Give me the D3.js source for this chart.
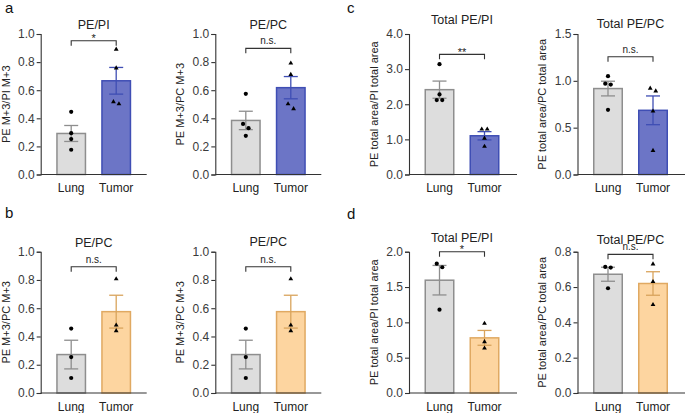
<!DOCTYPE html>
<html>
<head>
<meta charset="utf-8">
<script src="https://cdn.jsdelivr.net/npm/d3@7"></script>
<style>
  html, body { margin: 0; padding: 0; background: #fff; }
  svg { display: block; font-family: "Liberation Sans", Arial, Helvetica, sans-serif; }
</style>
</head>
<body>
<svg id="chart" width="685" height="413"></svg>
<script>
// ---------- data ----------
const categories = ["Lung", "Tumor"];
const panelTitles = ["PE/PI", "PE/PC", "Total PE/PI", "Total PE/PC", "PE/PC", "PE/PC", "Total PE/PI", "Total PE/PC"];
const yAxisLabels = [
  "PE M+3/PI M+3", "PE M+3/PC M+3", "PE total area/PI total area", "PE total area/PC total area",
  "PE M+3/PC M+3", "PE M+3/PC M+3", "PE total area/PI total area", "PE total area/PC total area"
];
const yMaxima = [1.0, 1.0, 4.0, 1.5, 1.0, 1.0, 2.0, 0.8];
const yTickSteps = [0.2, 0.2, 1.0, 0.5, 0.2, 0.2, 0.5, 0.2];
const significance = ["*", "n.s.", "**", "n.s.", "n.s.", "n.s.", "*", "n.s."];
const bracketLevels = [0.952, 0.898, 3.42, 1.257, 0.894, 0.894, 2.0, 0.785];
const panelLetters = ["a", "c", "b", "d"];
const lungValues = [
  [0.446, 0.294, 0.252, 0.176],
  [0.574, 0.360, 0.330, 0.275],
  [3.14, 2.28, 2.12, 2.12],
  [1.05, 0.97, 0.96, 0.69],
  [0.456, 0.254, 0.106],
  [0.456, 0.254, 0.106],
  [1.83, 1.78, 1.18],
  [0.714, 0.710, 0.593]
];
const tumorValues = [
  [0.891, 0.758, 0.517, 0.502],
  [0.792, 0.711, 0.502, 0.467],
  [1.29, 1.29, 1.03, 0.80],
  [0.92, 0.89, 0.676, 0.255],
  [0.807, 0.480, 0.440],
  [0.807, 0.480, 0.440],
  [0.984, 0.724, 0.634],
  [0.73, 0.63, 0.50]
];

// ---------- layout & style ----------
const colX = [40.7, 215.3, 409, 577.5];
const rows = [{ top: 34, bottom: 174.5 }, { top: 251.7, bottom: 393 }];
const axisExtent = [106, 106, 108, 108];
const titleGap = [5, 5, 10, 6.5, 5, 5.5, 9.5, 8];
const letterPos = [[5, 13], [347, 13], [5, 218], [347, 219]];
const lungStyle = { fill: "#dddddd", stroke: "#8e8e8e", err: "#8e8e8e" };
const tumorStyles = [
  { fill: "#6c75c6", stroke: "#3f4eb4", err: "#3f4eb4" },
  { fill: "#fdd5a0", stroke: "#e0a962", err: "#d9a45c" }
];
const axisColor = "#333";
const textColor = "#222";

const svg = d3.select("#chart");

function mean(a) { return d3.mean(a); }
function sem(a) { return d3.deviation(a) / Math.sqrt(a.length); }

function jitter(vals, y) {
  // group points whose pixel positions nearly overlap, spread them symmetrically
  const idx = vals.map((v, i) => i).sort((a, b) => vals[b] - vals[a]);
  const off = new Array(vals.length).fill(0);
  let cluster = [idx[0]];
  const flush = () => {
    const n = cluster.length;
    cluster.forEach((k, j) => { off[k] = (j - (n - 1) / 2) * 5.5; });
  };
  for (let j = 1; j < idx.length; j++) {
    const prev = cluster[cluster.length - 1];
    if (Math.abs(y(vals[idx[j]]) - y(vals[prev])) < 5.5) cluster.push(idx[j]);
    else { flush(); cluster = [idx[j]]; }
  }
  flush();
  return off;
}

for (let p = 0; p < 8; p++) {
  const row = p < 4 ? 0 : 1;
  const col = p % 4;
  const ax = colX[col];
  const { top, bottom } = rows[row];
  const g = svg.append("g");

  const y = d3.scaleLinear().domain([0, yMaxima[p]]).range([bottom, top]);
  const x = d3.scaleBand().domain(categories).range([ax + 15.5, ax + 90.5]).paddingInner(1 / 3).paddingOuter(0);
  const tumorStyle = tumorStyles[row];
  const styles = [lungStyle, tumorStyle];
  const groups = [lungValues[p], tumorValues[p]];

  // bars
  groups.forEach((vals, i) => {
    const m = mean(vals);
    g.append("rect")
      .attr("x", x(categories[i]) + 0.75)
      .attr("y", y(m))
      .attr("width", x.bandwidth() - 1.5)
      .attr("height", y(0) - y(m))
      .attr("fill", styles[i].fill)
      .attr("stroke", styles[i].stroke)
      .attr("stroke-width", 1.5);
  });

  // error bars
  groups.forEach((vals, i) => {
    const m = mean(vals), s = sem(vals);
    const cx = x(categories[i]) + x.bandwidth() / 2;
    const eg = g.append("g").attr("stroke", styles[i].err).attr("stroke-width", 1.3).attr("fill", "none");
    eg.append("line").attr("x1", cx).attr("x2", cx).attr("y1", y(m - s)).attr("y2", y(m + s));
    eg.append("line").attr("x1", cx - 7).attr("x2", cx + 7).attr("y1", y(m + s)).attr("y2", y(m + s));
    eg.append("line").attr("x1", cx - 7).attr("x2", cx + 7).attr("y1", y(m - s)).attr("y2", y(m - s));
  });

  // points
  groups.forEach((vals, i) => {
    const cx = x(categories[i]) + x.bandwidth() / 2;
    const off = jitter(vals, y);
    vals.forEach((v, k) => {
      if (i === 0) {
        g.append("circle").attr("cx", cx + off[k]).attr("cy", y(v)).attr("r", 2.1).attr("fill", "#000");
      } else {
        g.append("path")
          .attr("d", d3.symbol().type(d3.symbolTriangle).size(10)())
          .attr("transform", `translate(${cx + off[k]},${y(v)})`)
          .attr("fill", "#000");
      }
    });
  });

  // y axis
  const ticks = d3.range(0, yMaxima[p] + yTickSteps[p] / 2, yTickSteps[p]);
  const yAxis = d3.axisLeft(y).tickValues(ticks).tickFormat(d3.format(".1f")).tickSize(4).tickPadding(2);
  const yg = g.append("g").attr("transform", `translate(${ax},0)`).call(yAxis);
  yg.select(".domain").attr("stroke", axisColor).attr("stroke-width", 1.1);
  yg.selectAll(".tick line").attr("stroke", axisColor).attr("stroke-width", 1.1);
  yg.selectAll(".tick text").attr("fill", "#3a3a3a").attr("font-size", 12).attr("font-family", "Liberation Sans, Arial, sans-serif");

  // x axis (line only)
  g.append("line")
    .attr("x1", ax).attr("x2", ax + axisExtent[col])
    .attr("y1", y(0)).attr("y2", y(0))
    .attr("stroke", axisColor).attr("stroke-width", 1.1);

  // category labels
  categories.forEach((c) => {
    g.append("text")
      .attr("x", x(c) + x.bandwidth() / 2)
      .attr("y", bottom + 17.5)
      .attr("text-anchor", "middle")
      .attr("font-size", 12)
      .attr("fill", textColor)
      .text(c);
  });

  // title
  const cx0 = x(categories[0]) + x.bandwidth() / 2;
  const cx1 = x(categories[1]) + x.bandwidth() / 2;
  g.append("text")
    .attr("x", (cx0 + cx1) / 2)
    .attr("y", top - titleGap[p])
    .attr("text-anchor", "middle")
    .attr("font-size", 12.5)
    .attr("fill", textColor)
    .text(panelTitles[p]);

  // y label
  g.append("text")
    .attr("transform", `translate(${ax - 35},${(top + bottom) / 2}) rotate(-90)`)
    .attr("text-anchor", "middle")
    .attr("dy", "0.35em")
    .attr("font-size", 11)
    .attr("fill", textColor)
    .text(yAxisLabels[p]);

  // significance bracket
  const by = y(bracketLevels[p]);
  g.append("path")
    .attr("d", `M${cx0},${by + 5}V${by}H${cx1}V${by + 5}`)
    .attr("fill", "none").attr("stroke", axisColor).attr("stroke-width", 1.1);
  const isStar = significance[p].indexOf("*") >= 0;
  g.append("text")
    .attr("x", (cx0 + cx1) / 2)
    .attr("y", isStar ? by + 1.5 : by - 4)
    .attr("text-anchor", "middle")
    .attr("font-size", isStar ? 11 : 10)
    .attr("fill", textColor)
    .text(significance[p]);
}

// panel letters
panelLetters.forEach((l, i) => {
  svg.append("text")
    .attr("x", letterPos[i][0])
    .attr("y", letterPos[i][1])
    .attr("font-size", 15)
    .attr("fill", "#111")
    .text(l);
});
</script>
</body>
</html>
